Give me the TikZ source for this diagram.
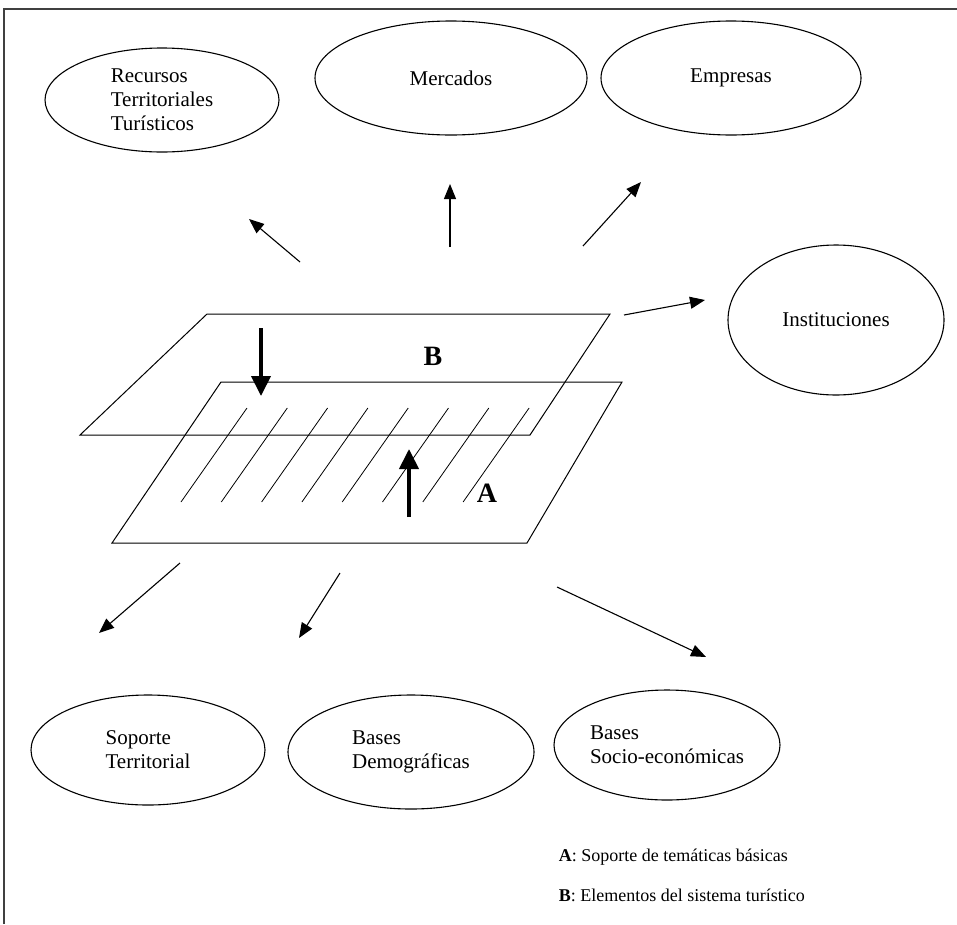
\documentclass[tikz,border=0pt]{standalone}
\usepackage{fontspec}
\setmainfont{Liberation Serif}
\usetikzlibrary{shapes.geometric,arrows.meta}

\begin{document}
\begin{tikzpicture}[x=1pt,y=-1pt, line width=1.1pt,
  elem/.style={ellipse,draw,inner sep=0pt,align=left,font=\fontsize{21}{24}\selectfont},
  link/.style={-{Triangle[length=15pt,width=12pt]}},
  push/.style={line width=4pt,-{Triangle[length=20pt,width=19pt]}}]

\useasboundingbox (0,0) rectangle (957,924);
\draw[line width=2pt,black!75] (4,924) -- (4,9) -- (957,9);

% elementos del sistema
\node[elem,minimum width=234,minimum height=104] (recursos) at (162,100) {Recursos\\Territoriales\\Tur\'isticos};
\node[elem,minimum width=272,minimum height=114] (mercados) at (451,78) {Mercados};
\node[elem,minimum width=260,minimum height=114] (empresas) at (731,78) {Empresas};
\node[elem,minimum width=216,minimum height=150] (instit) at (836,320) {Instituciones};

% bases
\node[elem,minimum width=234,minimum height=110] (soporte) at (148,750) {Soporte\\Territorial};
\node[elem,minimum width=246,minimum height=114] (demog) at (411,752) {Bases\\Demogr\'aficas};
\node[elem,minimum width=226,minimum height=110] (socio) at (667,745) {Bases\\Socio-econ\'omicas};

% planos
\draw[line width=1pt] (221,382) -- (622,382) -- (527,543) -- (112,543) -- cycle;
\draw[line width=1pt] (207,314) -- (610,314) -- (530,435) -- (80,435) -- cycle;
\foreach \i in {0,...,7} \draw[line width=.8pt] (181+40.3*\i,502) -- (247+40.3*\i,408);
\node[font=\bfseries\fontsize{28}{30}\selectfont] (labB) at (433,356) {B};
\node[font=\bfseries\fontsize{28}{30}\selectfont] (labA) at (487,493) {A};

\coordinate (bt) at (261,328); \coordinate (bb) at (261,396);
\coordinate (ab) at (409,517); \coordinate (at) at (409,449);
\draw[push] (bt) -- (bb);
\draw[push] (ab) -- (at);

% flechas
\coordinate (r0) at (300,262); \coordinate (r1) at (249,219);
\coordinate (m0) at (450,247); \coordinate (m1) at (450,184);
\coordinate (e0) at (583,246); \coordinate (e1) at (641,182);
\coordinate (i0) at (624,315); \coordinate (i1) at (705,300);
\coordinate (s0) at (180,563); \coordinate (s1) at (99,633);
\coordinate (d0) at (340,573); \coordinate (d1) at (299,638);
\coordinate (c0) at (557,587); \coordinate (c1) at (706,657);
\foreach \a/\b in {r0/r1,m0/m1,e0/e1,i0/i1,s0/s1,d0/d1,c0/c1} \draw[link] (\a) -- (\b);

% leyenda
\node[anchor=west,font=\fontsize{18}{20}\selectfont] (leyA) at (555,857) {\textbf{A}: Soporte de tem\'aticas b\'asicas};
\node[anchor=west,font=\fontsize{18}{20}\selectfont] (leyB) at (555,895) {\textbf{B}: Elementos del sistema tur\'istico};

\end{tikzpicture}
\end{document}
